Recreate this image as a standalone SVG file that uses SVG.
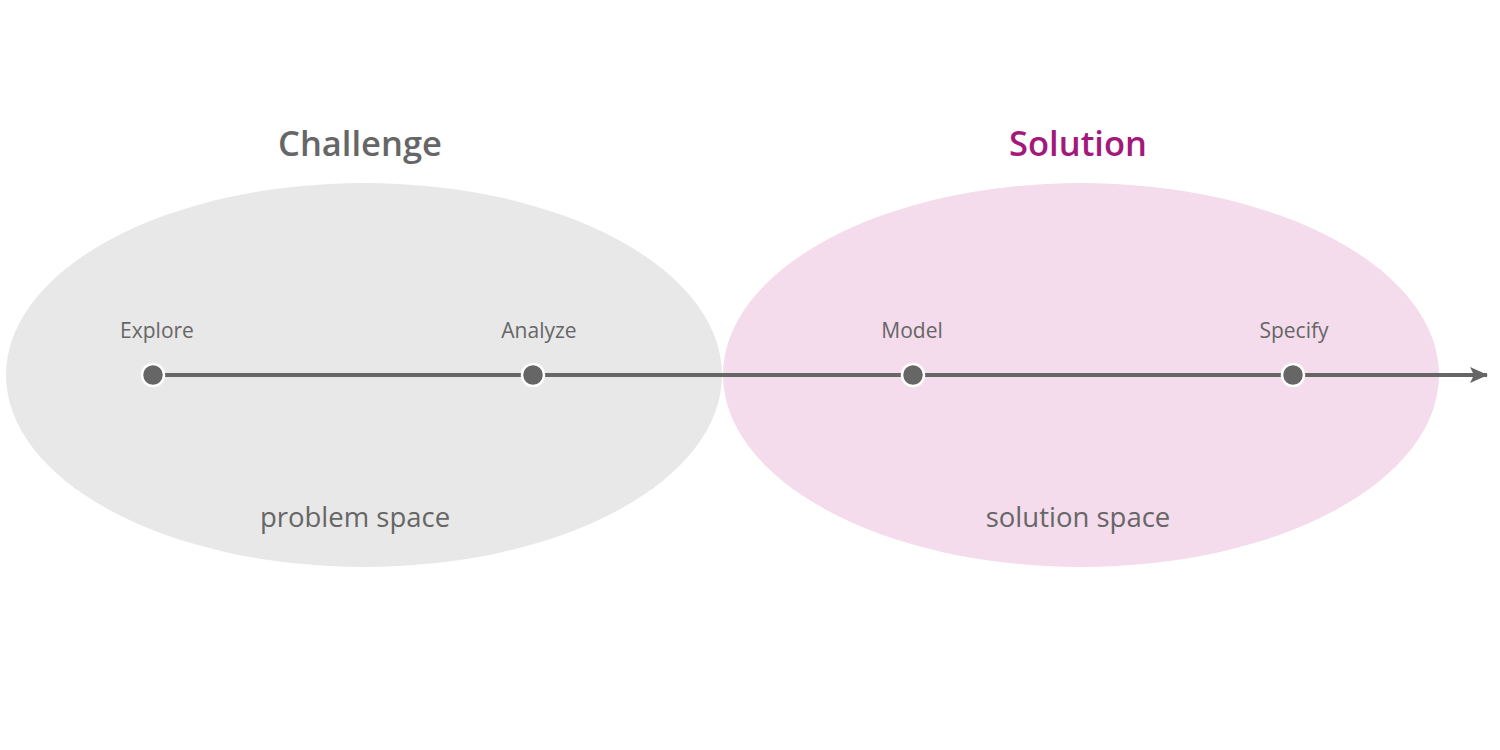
<svg xmlns="http://www.w3.org/2000/svg" width="1500" height="750" viewBox="0 0 1500 750">
<style>
text{font-family:"Open Sans","DejaVu Sans",sans-serif;fill:#666;text-anchor:middle}
.title{font-size:34.5px;font-weight:600}
.lbl{font-size:21px}
.space{font-size:27.5px}
.dot{fill:#666;stroke:#fff;stroke-width:2.5}
</style>
<defs>
<marker id="arr" markerWidth="18" markerHeight="16" refX="17" refY="8" orient="auto" markerUnits="userSpaceOnUse" viewBox="0 0 18 16">
<path d="M0,0 L18,8 L0,16 L4,8 Z" fill="#666"/>
</marker>
</defs>
<rect width="1500" height="750" fill="#fff"/>
<g id="problem-space">
<ellipse cx="364" cy="375" rx="358" ry="192" fill="#e8e8e8"/>
<text class="title" x="360" y="156">Challenge</text>
<text class="space" x="355" y="527">problem space</text>
</g>
<g id="solution-space">
<ellipse cx="1081" cy="375" rx="358" ry="192" fill="#f4dcec"/>
<text class="title" x="1078" y="156" style="fill:#a3197b">Solution</text>
<text class="space" x="1078" y="527">solution space</text>
</g>
<g id="connectors">
<line x1="153" y1="375" x2="1487" y2="375" stroke="#666" stroke-width="4" marker-end="url(#arr)"/>
</g>
<g id="explore"><circle class="dot" cx="153" cy="375" r="11"/><text class="lbl" x="157" y="338">Explore</text></g>
<g id="analyze"><circle class="dot" cx="533" cy="375" r="11"/><text class="lbl" x="539" y="338">Analyze</text></g>
<g id="model"><circle class="dot" cx="913" cy="375" r="11"/><text class="lbl" x="912" y="338">Model</text></g>
<g id="specify"><circle class="dot" cx="1293" cy="375" r="11"/><text class="lbl" x="1294" y="338">Specify</text></g>
</svg>
